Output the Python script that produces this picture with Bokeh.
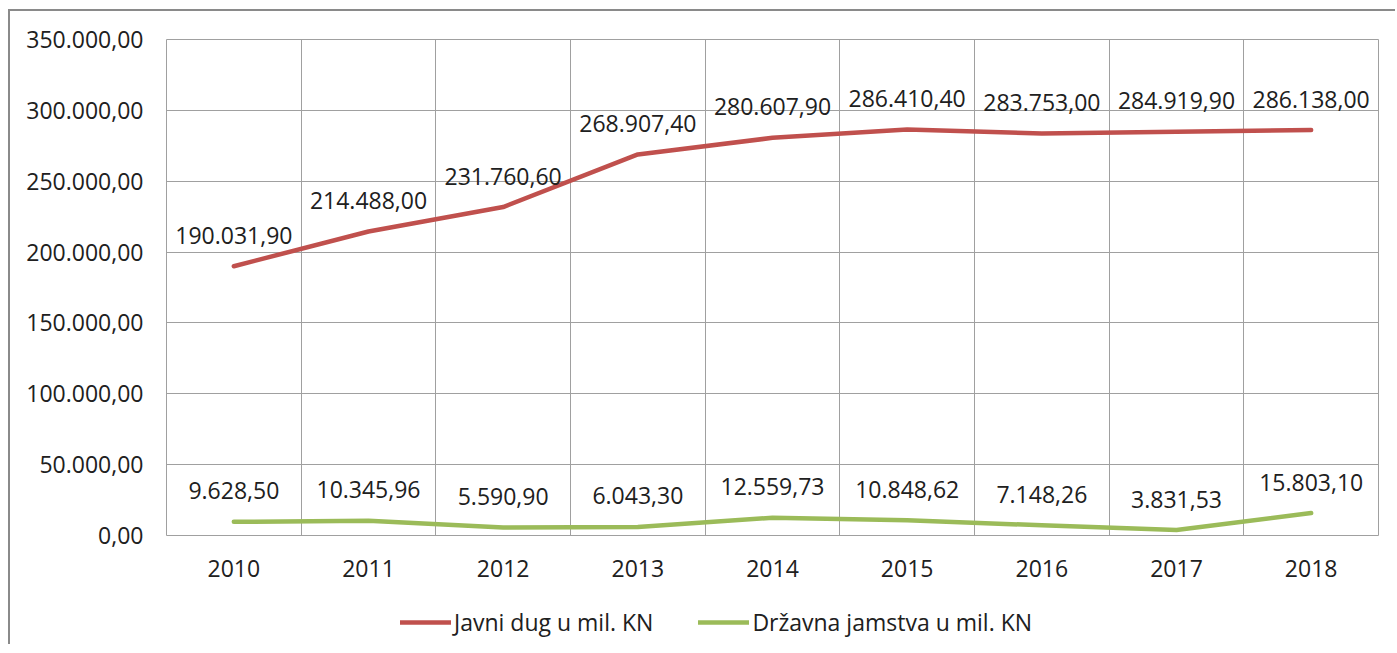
from bokeh.plotting import figure
from bokeh.layouts import column
from bokeh.models import Range1d, FixedTicker, Legend, LegendItem
from bokeh.embed import file_html
from bokeh.resources import INLINE
from bokeh.core.properties import value

years = ["2010", "2011", "2012", "2013", "2014", "2015", "2016", "2017", "2018"]
javni_dug = [190031.90, 214488.00, 231760.60, 268907.40, 280607.90,
             286410.40, 283753.00, 284919.90, 286138.00]
jamstva = [9628.50, 10345.96, 5590.90, 6043.30, 12559.73,
           10848.62, 7148.26, 3831.53, 15803.10]
y_ticks = [0, 50000, 100000, 150000, 200000, 250000, 300000, 350000]
series_names = ["Javni dug u mil. KN", "Državna jamstva u mil. KN"]


def hr(v):
    s = f"{v:,.2f}"
    return s.replace(",", "X").replace(".", ",").replace("X", ".")


RED = "#C0504D"
GREEN = "#9BBB59"
GRID = "#A0A0A0"
TXT = "#202020"
FONT = "Open Sans"
FS = "23px"

n = len(years)
xs = [i + 0.5 for i in range(n)]

p = figure(width=1385, height=589, output_backend="svg", toolbar_location=None,
           x_range=Range1d(0, n), y_range=Range1d(0, y_ticks[-1]),
           min_border_left=156, min_border_right=17, min_border_top=28,
           min_border_bottom=65)
p.background_fill_color = "white"
p.border_fill_color = "white"
p.outline_line_color = GRID
p.outline_line_width = 1

# axes
p.xaxis.ticker = FixedTicker(ticks=xs)
p.xaxis.major_label_overrides = {x: y for x, y in zip(xs, years)}
p.yaxis.ticker = FixedTicker(ticks=y_ticks)
p.yaxis.major_label_overrides = {t: hr(t) for t in y_ticks}
for ax in (p.xaxis[0], p.yaxis[0]):
    ax.axis_line_color = None
    ax.major_tick_line_color = None
    ax.minor_tick_line_color = None
    ax.major_tick_out = 0
    ax.major_tick_in = 0
    ax.major_label_text_font = FONT
    ax.major_label_text_font_size = FS
    ax.major_label_text_color = TXT
p.xaxis.major_label_standoff = 24
p.yaxis.major_label_standoff = 23

p.xgrid.ticker = FixedTicker(ticks=list(range(n + 1)))
p.ygrid.ticker = FixedTicker(ticks=y_ticks)
p.xgrid.grid_line_color = GRID
p.ygrid.grid_line_color = GRID

p.line(xs, javni_dug, line_width=4.5, line_color=RED, line_cap="round", line_join="round")
p.line(xs, jamstva, line_width=4.5, line_color=GREEN, line_cap="round", line_join="round")

for vals in (javni_dug, jamstva):
    p.text(x=xs, y=vals, text=[hr(v) for v in vals], text_align="center",
           text_baseline="middle", y_offset=-31, text_font=value(FONT),
           text_font_size=FS, text_color=TXT)

# legend strip below the chart
lg = figure(width=1385, height=44, output_backend="svg", toolbar_location=None,
            x_range=Range1d(0, n), y_range=Range1d(0, y_ticks[-1]),
            x_axis_type=None, y_axis_type=None, min_border=0)
lg.grid.visible = False
lg.outline_line_color = None
lg.background_fill_color = "white"
lg.border_fill_color = "white"
q1 = lg.line(xs, javni_dug, line_width=4.5, line_color=RED, line_cap="round", visible=False)
q2 = lg.line(xs, jamstva, line_width=4.5, line_color=GREEN, line_cap="round", visible=False)
legend = Legend(items=[LegendItem(label=series_names[0], renderers=[q1]),
                       LegendItem(label=series_names[1], renderers=[q2])],
                orientation="horizontal", location=(234, 6),
                glyph_width=51, glyph_height=26, label_standoff=3, spacing=45,
                padding=0, margin=0, border_line_color=None,
                background_fill_alpha=0, inactive_fill_alpha=0,
                label_text_font=FONT, label_text_font_size=FS, label_text_color=TXT)
lg.add_layout(legend, "center")

layout = column(p, lg, spacing=0)
layout.styles = {"margin-left": "8px", "margin-top": "9px",
                 "border-left": "2px solid #8a8a8a", "border-top": "2px solid #8a8a8a"}

open("out.html", "w").write(file_html(layout, INLINE))
